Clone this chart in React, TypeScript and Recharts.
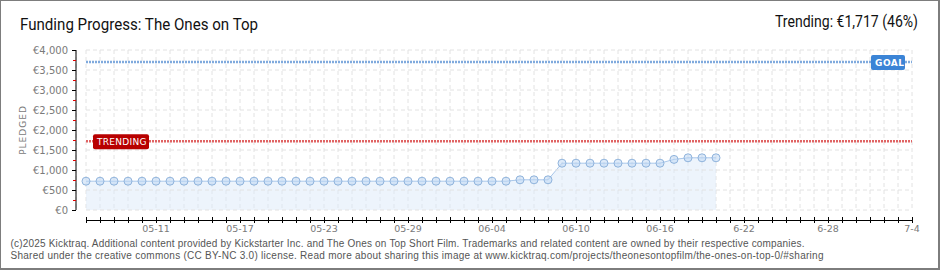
import React from 'react';
import { ComposedChart, Area, XAxis, YAxis, CartesianGrid, ReferenceLine } from 'recharts';

// one category per day, 05-06 .. 07-04
const DATES = [
  '05-06', '05-07', '05-08', '05-09', '05-10', '05-11', '05-12', '05-13', '05-14', '05-15',
  '05-16', '05-17', '05-18', '05-19', '05-20', '05-21', '05-22', '05-23', '05-24', '05-25',
  '05-26', '05-27', '05-28', '05-29', '05-30', '05-31', '06-01', '06-02', '06-03', '06-04',
  '06-05', '06-06', '06-07', '06-08', '06-09', '06-10', '06-11', '06-12', '06-13', '06-14',
  '06-15', '06-16', '06-17', '06-18', '06-19', '06-20', '06-21', '06-22', '06-23', '06-24',
  '06-25', '06-26', '06-27', '06-28', '06-29', '06-30', '07-01', '07-02', '07-03', '07-04',
];

// pledged total per day (only the days that have happened)
const PLEDGED = [
  720, 720, 720, 720, 720, 720, 720, 720, 720, 720,
  720, 720, 720, 720, 720, 720, 720, 720, 720, 720,
  720, 720, 720, 720, 720, 720, 720, 720, 720, 720,
  720, 755, 755, 755, 1170, 1170, 1170, 1170, 1170, 1170,
  1170, 1170, 1265, 1305, 1305, 1305,
];

const X_TICK_LABELS: Record<string, string> = {
  '05-11': '05-11', '05-17': '05-17', '05-23': '05-23', '05-29': '05-29', '06-04': '06-04',
  '06-10': '06-10', '06-16': '06-16', '06-22': '6-22', '06-28': '6-28', '07-04': '7-4',
};

const Y_TICKS = [0, 250, 500, 750, 1000, 1250, 1500, 1750, 2000, 2250, 2500, 2750, 3000, 3250, 3500, 3750, 4000];
const GRID_VALUES = [0, 500, 1000, 1500, 2000, 2500, 3000, 3500, 4000];

const GOAL = 3700;
const TRENDING = 1717;

const data = DATES.map((date, i) => ({ date, pledged: i < PLEDGED.length ? PLEDGED[i] : null }));

const money = (v: number) => '€' + v.toLocaleString('en-US');

function YTick({ x, y, payload }: any) {
  const v = payload.value;
  if (v % 500 !== 0) {
    return <line x1={x - 3} x2={x} y1={y} y2={y} stroke="#e00000" shapeRendering="crispEdges" />;
  }
  return (
    <g>
      <line x1={x - 4} x2={x} y1={y} y2={y} stroke="#000" shapeRendering="crispEdges" />
      <text x={x - 8} y={y} dy={3.5} textAnchor="end" fontFamily="DejaVu Sans" fontSize={10} fill="#7a7a7a">
        {money(v)}
      </text>
    </g>
  );
}

function XTick({ x, y, payload }: any) {
  const label = X_TICK_LABELS[payload.value];
  return (
    <g>
      <line x1={x} x2={x} y1={y + 7} y2={y + 13} stroke="#000" shapeRendering="crispEdges" />
      {label && (
        <text x={x} y={y + 22} textAnchor="middle" fontFamily="DejaVu Sans" fontSize={9.5} fill="#7a7a7a">
          {label}
        </text>
      )}
    </g>
  );
}

function GoalTag({ viewBox }: any) {
  const right = viewBox.x + viewBox.width - 7;
  return (
    <g>
      <rect x={right - 34} y={viewBox.y - 7} width={34} height={15} rx={2} fill="#3b84d6" />
      <text x={right - 30} y={viewBox.y + 4} fontFamily="DejaVu Sans" fontSize={9} fontWeight="bold" fill="#fff" letterSpacing={0.5}>
        GOAL
      </text>
    </g>
  );
}

function TrendTag({ viewBox }: any) {
  const left = viewBox.x + 7;
  return (
    <g>
      <rect x={left} y={viewBox.y - 7} width={56} height={15} rx={2} fill="#b80000" />
      <text x={left + 4} y={viewBox.y + 4} fontFamily="DejaVu Sans" fontSize={9} fill="#fff" letterSpacing={0.3}>
        TRENDING
      </text>
    </g>
  );
}

export default function App() {
  const first = DATES[0];
  const last = DATES[DATES.length - 1];
  const pct = Math.round((TRENDING / GOAL) * 100);
  const trendText = `Trending: ${money(TRENDING)} (${pct}%)`;

  return (
    <div style={{ position: 'absolute', top: 0, left: 0, width: 940, height: 270, background: '#fff' }}>
      <ComposedChart width={940} height={270} data={data} margin={{ top: 50, right: 28, bottom: 40, left: 26 }}>
        <CartesianGrid horizontal={false} stroke="#e2e2e2" strokeDasharray="4 3" />
        {GRID_VALUES.map((v) => (
          <ReferenceLine
            key={v}
            segment={[{ x: first, y: v }, { x: last, y: v }]}
            stroke="#e2e2e2"
            strokeDasharray="4 3"
          />
        ))}
        <XAxis
          dataKey="date"
          interval={0}
          padding={{ left: 10, right: 0 }}
          height={20}
          axisLine={false}
          tickLine={false}
          tickSize={0}
          tickMargin={0}
          tick={<XTick />}
        />
        <YAxis
          domain={[0, 4000]}
          ticks={Y_TICKS}
          interval={0}
          width={50}
          axisLine={{ stroke: '#000' }}
          tickLine={false}
          tickSize={0}
          tickMargin={0}
          tick={<YTick />}
        />
        <Area
          type="linear"
          dataKey="pledged"
          stroke="#a9c7ea"
          strokeWidth={1}
          fill="#dbe9f9"
          fillOpacity={0.5}
          dot={{ r: 4, fill: '#bcd6f3', stroke: '#8fb3dc', strokeWidth: 1 }}
          activeDot={false}
          isAnimationActive={false}
        />
        <ReferenceLine
          segment={[{ x: first, y: -250 }, { x: last, y: -250 }]}
          ifOverflow="visible"
          stroke="#000"
          shapeRendering="crispEdges"
        />
        <ReferenceLine
          segment={[{ x: first, y: GOAL }, { x: last, y: GOAL }]}
          stroke="#80aadd"
          strokeWidth={2.5}
          strokeDasharray="2 1"
          label={(p: any) => <GoalTag viewBox={p.viewBox} />}
        />
        <ReferenceLine
          segment={[{ x: first, y: TRENDING }, { x: last, y: TRENDING }]}
          stroke="#e06464"
          strokeWidth={2.5}
          strokeDasharray="2 1"
          label={(p: any) => <TrendTag viewBox={p.viewBox} />}
        />
      </ComposedChart>

      <svg width={940} height={270} style={{ position: 'absolute', top: 0, left: 0, pointerEvents: 'none' }}>
        <text x={20} y={29.5} fontFamily="Roboto" fontSize={16} fill="#111" textLength={238} lengthAdjust="spacingAndGlyphs">
          Funding Progress: The Ones on Top
        </text>
        <text x={918} y={27} textAnchor="end" fontFamily="Roboto" fontSize={16} fill="#111" textLength={143} lengthAdjust="spacingAndGlyphs">
          {trendText}
        </text>
        <text x={25.5} y={130} transform="rotate(-90 25.5 130)" textAnchor="middle" fontFamily="DejaVu Sans" fontSize={9} fill="#7a7a7a" letterSpacing={1}>
          PLEDGED
        </text>
        <text x={10.5} y={247} fontFamily="Liberation Sans" fontSize={10} fill="#555" textLength={794} lengthAdjust="spacing">
          (c)2025 Kicktraq. Additional content provided by Kickstarter Inc. and The Ones on Top Short Film. Trademarks and related content are owned by their respective companies.
        </text>
        <text x={10.5} y={258.5} fontFamily="Liberation Sans" fontSize={10} fill="#555" textLength={813} lengthAdjust="spacing">
          Shared under the creative commons (CC BY-NC 3.0) license. Read more about sharing this image at www.kicktraq.com/projects/theonesontopfilm/the-ones-on-top-0/#sharing
        </text>
      </svg>
      <div style={{ position: 'absolute', top: 0, left: 0, width: 940, height: 270, boxSizing: 'border-box', borderTop: '1px solid #7d7d7d', borderLeft: '1px solid #7d7d7d', borderRight: '2px solid #7d7d7d', borderBottom: '2px solid #7d7d7d', pointerEvents: 'none' }} />
    </div>
  );
}
